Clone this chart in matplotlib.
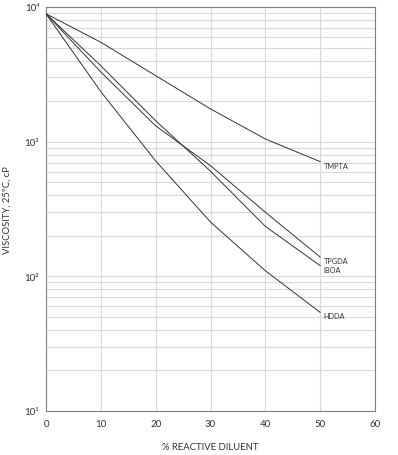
import matplotlib.pyplot as plt
from matplotlib.ticker import FixedLocator, FixedFormatter, LogLocator, NullFormatter

plt.rcParams['font.family'] = ['Lato', 'DejaVu Sans']

# % reactive diluent
diluent = [0, 10, 20, 30, 40, 50]

# viscosity at 25 C, cP
tmpta = [8900, 5470, 3090, 1750, 1047, 711]
tpgda = [8900, 3290, 1310, 663, 299, 139]
iboa = [8900, 3660, 1430, 603, 235, 120]
hdda = [8900, 2350, 719, 253, 110, 54]

series = [("TMPTA", tmpta), ("TPGDA", tpgda), ("IBOA", iboa), ("HDDA", hdda)]

y_ticks = [10, 100, 1000, 10000]
y_tick_labels = ["10¹", "10²", "10³", "10⁴"]

fig = plt.figure(figsize=(3.98, 4.56), dpi=100)
ax = fig.add_axes([0.1156, 0.0965, 0.8266, 0.886])

grid_col = "#d9d9d9"
for name, vals in series:
    ax.plot(diluent, vals, color="#333333", lw=0.7, zorder=3)
    # labels sit just right of, and a touch below, the line end
    ax.text(diluent[-1] + 0.6, vals[-1] * 0.94, name,
            fontsize=5.3, va="center", ha="left", color="#333333")

ax.set_yscale("log")
ax.set_xlim(0, 60)
ax.set_ylim(10, 10000)
ax.set_xticks(range(0, 61, 10))
ax.yaxis.set_major_locator(FixedLocator(y_ticks))
ax.yaxis.set_major_formatter(FixedFormatter(y_tick_labels))
ax.yaxis.set_minor_locator(LogLocator(base=10, subs=range(2, 10)))
ax.yaxis.set_minor_formatter(NullFormatter())

ax.grid(True, which="major", axis="both", color=grid_col, lw=0.8)
ax.grid(True, which="minor", axis="y", color=grid_col, lw=0.8)
ax.set_axisbelow(True)

ax.tick_params(which="both", length=0, labelsize=7, colors="#333333")
ax.tick_params(axis="x", pad=6)
ax.tick_params(axis="y", pad=5)
for sp in ax.spines.values():
    sp.set_color("#7f7f7f")
    sp.set_linewidth(0.8)

ax.set_xlabel("% REACTIVE DILUENT", fontsize=6.8, color="#333333", labelpad=10)
ax.set_ylabel("VISCOSITY, 25ºC, cP", fontsize=6.8, color="#333333", labelpad=9)

fig.savefig("out.png", dpi=100)
